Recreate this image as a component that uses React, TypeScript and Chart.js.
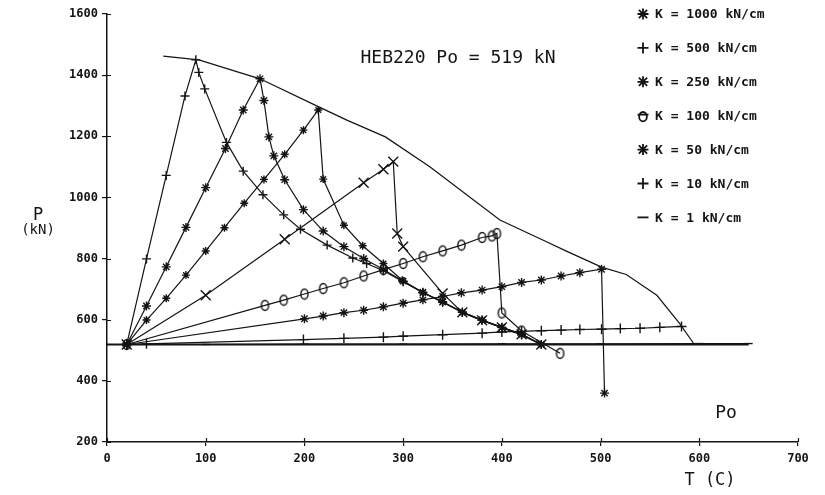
import React, { useEffect, useRef } from 'react';
import { Chart, registerables } from 'chart.js';
Chart.register(...registerables);

const INK = '#141414';
const MONO = '"DejaVu Sans Mono", "Liberation Mono", monospace';

// axes
const X_MIN = 0, X_MAX = 700, X_STEP = 100;
const Y_MIN = 200, Y_MAX = 1600, Y_STEP = 200;

// reference line Po = 519 kN
const PO_T = [0, 650];
const PO_P = [519, 519];

// envelope curve
const ENV_T = [57, 93, 155, 214, 243, 282, 327, 398, 442, 467, 501, 526, 557, 580, 595];
const ENV_P = [1462, 1450, 1388, 1297, 1253, 1198, 1100, 926, 860, 822, 772, 748, 680, 588, 519];

// series (T in C, P in kN)
const A_T = [20, 40, 60, 79, 90, 93, 99, 121, 138, 158, 179, 196, 223, 249, 263, 280, 300, 320, 340, 360, 380, 400, 420, 440];
const A_P = [519, 799, 1072, 1332, 1450, 1409, 1355, 1180, 1086, 1009, 943, 896, 844, 802, 784, 760, 724, 688, 657, 624, 598, 574, 550, 519];

const B_T = [20, 40, 60, 80, 100, 120, 138, 155, 159, 164, 169, 180, 199, 219, 240, 260, 280, 300, 320, 340, 360, 380, 400, 420, 440];
const B_P = [519, 645, 773, 902, 1032, 1160, 1286, 1388, 1317, 1198, 1136, 1058, 960, 890, 839, 800, 764, 726, 690, 658, 625, 599, 575, 552, 519];

const C_T = [20, 40, 60, 80, 100, 119, 139, 159, 180, 199, 214, 219, 240, 259, 280, 299, 320, 340, 360, 380, 400, 420, 440];
const C_P = [519, 599, 670, 746, 825, 901, 981, 1059, 1141, 1220, 1286, 1060, 909, 842, 784, 729, 688, 659, 624, 598, 575, 552, 519];

const D_T = [20, 100, 180, 260, 280, 290, 294, 300, 340, 360, 380, 400, 420, 440];
const D_P = [519, 680, 863, 1048, 1092, 1117, 882, 839, 686, 624, 598, 575, 552, 519];

const E_T = [20, 160, 179, 200, 219, 240, 260, 280, 300, 320, 340, 359, 380, 390, 395, 400, 420, 459];
const E_P = [519, 647, 664, 684, 702, 721, 743, 764, 784, 806, 825, 844, 869, 874, 882, 622, 563, 490];

const F_T = [20, 200, 219, 240, 260, 280, 300, 320, 340, 359, 380, 400, 420, 440, 460, 479, 501, 504];
const F_P = [519, 603, 612, 623, 631, 642, 654, 665, 676, 688, 697, 708, 722, 730, 743, 754, 765, 360];

const G_T = [20, 40, 199, 240, 280, 300, 340, 380, 400, 420, 440, 460, 479, 501, 520, 540, 560, 582];
const G_P = [519, 521, 535, 539, 543, 546, 551, 556, 560, 562, 564, 566, 568, 569, 571, 572, 575, 578];

const H_T = [20, 100, 200, 300, 400, 500, 600, 650];
const H_P = [519, 519, 520, 520, 521, 521, 522, 522];

// legend
const LEGEND_LABELS = ['K = 1000 kN/cm', 'K = 500 kN/cm', 'K = 250 kN/cm', 'K = 100 kN/cm', 'K = 50 kN/cm', 'K = 10 kN/cm', 'K = 1 kN/cm'];
const LEGEND_MARKS = ['star', 'cross', 'star', 'theta', 'star', 'cross', 'line'];

const TITLE = 'HEB220 Po = 519 kN';
const Y_TITLE_1 = 'P';
const Y_TITLE_2 = '(kN)';
const X_TITLE = 'T (C)';
const PO_LABEL = 'Po';

const pts = (T: number[], P: number[]) => T.map((t, i) => ({ x: t, y: P[i] }));

function makeTheta(): HTMLCanvasElement {
  const c = document.createElement('canvas');
  c.width = 11; c.height = 13;
  const g = c.getContext('2d')!;
  g.strokeStyle = INK; g.lineWidth = 1.4;
  g.beginPath(); g.ellipse(5.5, 6.5, 3.6, 5, 0, 0, Math.PI * 2); g.stroke();
  return c;
}

function drawMark(ctx: CanvasRenderingContext2D, style: string, x: number, y: number, r: number) {
  ctx.save();
  ctx.strokeStyle = INK; ctx.lineWidth = 1.8;
  ctx.beginPath();
  const d = r * 0.75;
  if (style === 'star') {
    ctx.moveTo(x - r, y); ctx.lineTo(x + r, y);
    ctx.moveTo(x - d, y - d); ctx.lineTo(x + d, y + d);
    ctx.moveTo(x - d, y + d); ctx.lineTo(x + d, y - d);
    ctx.moveTo(x, y - r); ctx.lineTo(x, y + r);
  } else if (style === 'cross') {
    ctx.moveTo(x - r, y); ctx.lineTo(x + r, y);
    ctx.moveTo(x, y - r); ctx.lineTo(x, y + r);
  } else if (style === 'theta') {
    ctx.ellipse(x, y + 1, r * 0.7, r * 0.85, 0, 0, Math.PI * 2);
    ctx.moveTo(x - r, y - 1); ctx.lineTo(x + r, y - 1);
  } else {
    ctx.moveTo(x - r, y); ctx.lineTo(x + r, y);
  }
  ctx.stroke();
  ctx.restore();
}

const decorPlugin = {
  id: 'decor',
  afterDraw(chart: any) {
    const ctx: CanvasRenderingContext2D = chart.ctx;
    const xs = chart.scales.x, ys = chart.scales.y;
    const ca = chart.chartArea;
    ctx.save();
    // inner tick halves
    ctx.strokeStyle = INK; ctx.lineWidth = 1.2;
    ctx.beginPath();
    for (let v = X_MIN; v <= X_MAX; v += X_STEP) {
      const px = Math.round(xs.getPixelForValue(v)) + 0.5;
      ctx.moveTo(px, ca.bottom - 4); ctx.lineTo(px, ca.bottom);
    }
    for (let v = Y_MIN; v <= Y_MAX; v += Y_STEP) {
      const py = Math.round(ys.getPixelForValue(v)) + 0.5;
      ctx.moveTo(ca.left, py); ctx.lineTo(ca.left + 4, py);
    }
    ctx.stroke();

    ctx.fillStyle = INK;
    ctx.textAlign = 'center';
    ctx.textBaseline = 'middle';
    ctx.font = `18px ${MONO}`;
    ctx.fillText(TITLE, 458, 58);
    ctx.font = `17px ${MONO}`;
    ctx.fillText(Y_TITLE_1, 38, 216);
    ctx.font = `14px ${MONO}`;
    ctx.fillText(Y_TITLE_2, 38, 230);
    ctx.font = `18px ${MONO}`;
    ctx.fillText(PO_LABEL, 726, 413);
    ctx.font = `17px ${MONO}`;
    ctx.fillText(X_TITLE, 710, 481);

    // legend
    ctx.textAlign = 'left';
    ctx.font = `bold 13px ${MONO}`;
    LEGEND_LABELS.forEach((lab, i) => {
      const y = 14 + i * 33.9;
      drawMark(ctx, LEGEND_MARKS[i], 643, y, 5.5);
      ctx.fillText(lab, 655, y + 1);
    });
    ctx.restore();
  },
};

export default function App() {
  const ref = useRef<HTMLCanvasElement | null>(null);
  useEffect(() => {
    if (!ref.current) return;
    const theta = makeTheta();
    const base = {
      showLine: true,
      borderColor: INK,
      borderWidth: 1.2,
      pointBorderColor: INK,
      pointBackgroundColor: INK,
      pointBorderWidth: 1.4,
      tension: 0,
      fill: false,
    };
    const chart = new Chart(ref.current, {
      type: 'scatter',
      data: {
        datasets: [
          { ...base, label: 'Po', data: pts(PO_T, PO_P), pointRadius: 0, borderWidth: 1.8 },
          { ...base, label: 'envelope', data: pts(ENV_T, ENV_P), pointRadius: 0 },
          { ...base, label: 'A', data: pts(A_T, A_P), pointStyle: 'cross', pointRadius: 4.5 },
          { ...base, label: LEGEND_LABELS[0], data: pts(B_T, B_P), pointStyle: 'star', pointRadius: 4.5 },
          { ...base, label: LEGEND_LABELS[1], data: pts(C_T, C_P), pointStyle: 'star', pointRadius: 4 },
          { ...base, label: LEGEND_LABELS[2], data: pts(D_T, D_P), pointStyle: 'crossRot', pointRadius: 7 },
          { ...base, label: LEGEND_LABELS[3], data: pts(E_T, E_P), pointStyle: theta as any, pointRadius: 5 },
          { ...base, label: LEGEND_LABELS[4], data: pts(F_T, F_P), pointStyle: 'star', pointRadius: 4.5 },
          { ...base, label: LEGEND_LABELS[5], data: pts(G_T, G_P), pointStyle: 'cross', pointRadius: 5 },
          { ...base, label: LEGEND_LABELS[6], data: pts(H_T, H_P), pointStyle: 'line', pointRadius: 4 },
        ] as any,
      },
      options: {
        animation: false,
        responsive: false,
        layout: { padding: { left: 0, top: 14, right: 27, bottom: 0 } },
        plugins: { legend: { display: false }, tooltip: { enabled: false } },
        scales: {
          x: {
            type: 'linear', min: X_MIN, max: X_MAX,
            ticks: { stepSize: X_STEP, color: INK, padding: 6, maxRotation: 0, font: { family: MONO, size: 12, weight: 'bold' }, callback: (v: any) => String(v) },
            grid: { drawOnChartArea: false, tickLength: 4, color: INK, lineWidth: 1.2 },
            border: { color: INK, width: 1.5 },
            afterFit: (s: any) => { s.height = 53; },
          },
          y: {
            type: 'linear', min: Y_MIN, max: Y_MAX,
            ticks: { stepSize: Y_STEP, color: INK, padding: 4, font: { family: MONO, size: 12, weight: 'bold' }, callback: (v: any) => String(v) },
            grid: { drawOnChartArea: false, tickLength: 5, color: INK, lineWidth: 1.2 },
            border: { color: INK, width: 1.5 },
            afterFit: (s: any) => { s.width = 107; },
          },
        },
      } as any,
      plugins: [decorPlugin],
    });
    return () => chart.destroy();
  }, []);
  return (
    <div style={{ position: 'absolute', left: 0, top: 0, width: 825, height: 495, background: '#fff' }}>
      <canvas ref={ref} width={825} height={495} style={{ display: 'block' }} />
    </div>
  );
}
